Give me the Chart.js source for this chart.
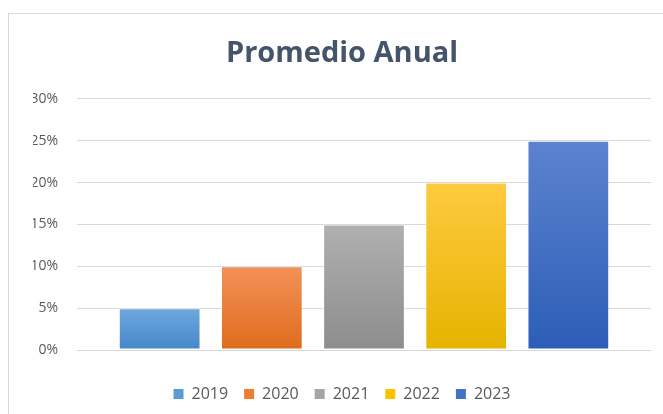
<!DOCTYPE html>
<html>
<head>
<meta charset="utf-8">
<script src="https://cdn.jsdelivr.net/npm/chart.js@4.4.0/dist/chart.umd.min.js"></script>
<style>
    body { margin: 0; background: #fff; }
    #wrap { position: relative; width: 663px; height: 414px; overflow: hidden; }
    #frame { position: absolute; left: 8px; top: 13px; width: 700px; height: 450px; border: 1px solid #d9d9d9; pointer-events: none; }
    canvas { position: absolute; left: 0; top: 0; }
</style>
</head>
<body>
<div id="wrap">
    <canvas id="myChart" width="663" height="414"></canvas>
    <div id="frame"></div>
</div>
<script>
var years = ['2019', '2020', '2021', '2022', '2023'];
var promedio = [5, 10, 15, 20, 25];
var yTicks = [0, 5, 10, 15, 20, 25, 30];

// colores: arriba / abajo del degradado
var topColors = ['#6ea8de', '#f3915a', '#b0b0b0', '#ffca40', '#5d83cf'];
var bottomColors = ['#4686c8', '#e06c1c', '#8d8d8d', '#e5b300', '#2c5db7'];
var baseColors = ['#5b9bd5', '#ed7d31', '#a5a5a5', '#ffc000', '#4472c4'];

function gradFor(i) {
    return function (ctx) {
        var chart = ctx.chart;
        var y = chart.scales && chart.scales.y;
        if (!y || !chart.chartArea) return baseColors[i];
        var top = y.getPixelForValue(promedio[i]);
        var bottom = y.getPixelForValue(0);
        if (!isFinite(top) || !isFinite(bottom) || top == bottom) return baseColors[i];
        var g = chart.ctx.createLinearGradient(0, top, 0, bottom);
        g.addColorStop(0, topColors[i]);
        g.addColorStop(1, bottomColors[i]);
        return g;
    };
}

var datasets = [];
for (var i = 0; i < years.length; i++) {
    datasets.push({
        label: years[i],
        data: [promedio[i]],
        backgroundColor: gradFor(i),
        borderColor: 'rgba(255,255,255,0.35)',
        borderWidth: 1,
        borderSkipped: false,
        categoryPercentage: 0.89,
        barPercentage: 0.8
    });
}

var legendColors = baseColors;

var config = {
    type: 'bar',
    data: { labels: [''], datasets: datasets },
    options: {
        responsive: false,
        animation: false,
        layout: { padding: { top: 36, right: 12, bottom: 2, left: 33 } },
        scales: {
            x: {
                display: true,
                grid: { display: false },
                border: { display: false },
                ticks: { display: false },
                afterFit: function (scale) { scale.height = 20; }
            },
            y: {
                min: 0,
                max: 30,
                afterFit: function (scale) { scale.width = 44; },
                afterBuildTicks: function (scale) {
                    scale.ticks = yTicks.map(function (v) { return { value: v }; });
                },
                border: { display: false },
                grid: { color: '#d9d9d9', lineWidth: 1, drawTicks: false },
                ticks: {
                    padding: 19,
                    color: '#595959',
                    font: { family: 'Open Sans', size: 14 },
                    callback: function (v) { return v + '%'; }
                }
            }
        },
        plugins: {
            title: {
                display: true,
                text: 'Promedio Anual',
                color: '#44546a',
                font: { family: 'Open Sans', size: 29, weight: 'bold' },
                padding: { top: 0, bottom: 28 }
            },
            legend: {
                position: 'bottom',
                labels: {
                    boxWidth: 10,
                    boxHeight: 10,
                    padding: 16,
                    color: '#595959',
                    font: { family: 'Open Sans', size: 16 },
                    generateLabels: function (chart) {
                        return chart.data.datasets.map(function (ds, i) {
                            return {
                                text: ds.label,
                                fillStyle: legendColors[i],
                                strokeStyle: legendColors[i],
                                lineWidth: 0,
                                fontColor: '#595959',
                                datasetIndex: i
                            };
                        });
                    }
                }
            },
            tooltip: { enabled: false }
        }
    }
};

var myChart = new Chart(document.getElementById('myChart'), config);
</script>
</body>
</html>
